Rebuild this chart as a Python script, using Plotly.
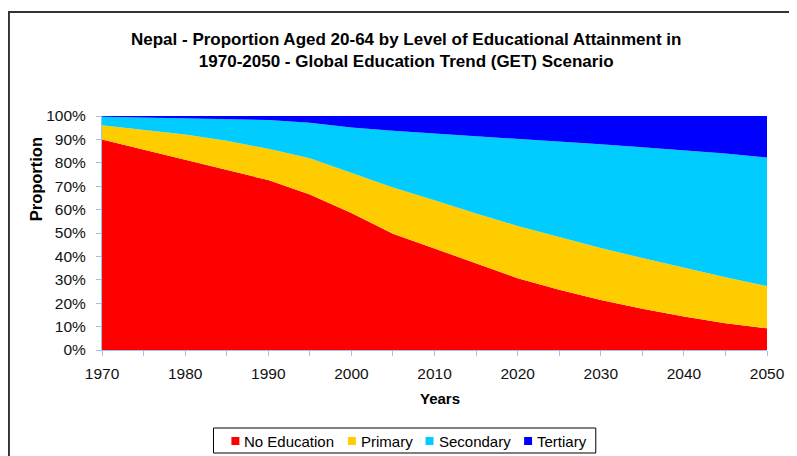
import plotly.graph_objects as go

years = [1970, 1975, 1980, 1985, 1990, 1995, 2000, 2005, 2010, 2015, 2020, 2025, 2030, 2035, 2040, 2045, 2050]
no_education = [90.0, 85.7, 81.4, 77.0, 72.6, 66.4, 58.6, 49.7, 43.3, 36.9, 30.7, 25.7, 21.4, 17.6, 14.3, 11.4, 9.3]
primary = [6.1, 8.3, 10.7, 12.4, 13.4, 15.5, 17.1, 19.7, 20.7, 21.4, 22.3, 22.6, 22.2, 21.7, 20.8, 19.7, 18.0]
secondary = [3.6, 5.4, 6.9, 9.3, 12.3, 15.2, 19.4, 24.3, 28.6, 33.1, 37.1, 40.7, 44.3, 47.3, 50.3, 52.9, 55.0]
tertiary = [0.3, 0.6, 1.0, 1.3, 1.7, 2.9, 4.9, 6.3, 7.4, 8.6, 9.9, 11.0, 12.1, 13.4, 14.6, 16.0, 17.7]

series_names = ["No Education", "Primary", "Secondary", "Tertiary"]
series_values = [no_education, primary, secondary, tertiary]
series_colors = ["#FF0000", "#FFCC00", "#00CCFF", "#0000FF"]

x_ticks = [1970, 1980, 1990, 2000, 2010, 2020, 2030, 2040, 2050]
y_ticks = [0, 10, 20, 30, 40, 50, 60, 70, 80, 90, 100]
y_labels = [f"{v}%" for v in y_ticks]

title_lines = [
    "Nepal - Proportion Aged 20-64 by Level of Educational Attainment in",
    "1970-2050 - Global Education Trend (GET) Scenario",
]

# figure geometry (page has an 8px body margin)
W, H = 789, 448
ML, MR, MT, MB = 94, 27, 108, 106
PW = W - ML - MR
PH = H - MT - MB


def px_x(fx):
    return (fx - ML) / PW


def px_y(fy):
    return (MT + PH - fy) / PH


fig = go.Figure()
for name, vals, col in zip(series_names, series_values, series_colors):
    fig.add_trace(go.Scatter(
        x=years, y=vals, name=name, mode="lines",
        stackgroup="one", line=dict(width=0, color=col),
        fillcolor=col, showlegend=False,
    ))

axis_col = "#99C2F0"
font = "Liberation Sans, Arial, sans-serif"

fig.update_layout(
    width=W, height=H,
    margin=dict(l=ML, r=MR, t=MT, b=MB),
    paper_bgcolor="white", plot_bgcolor="white",
    font=dict(family=font, size=15, color="black"),
    xaxis=dict(
        range=[1970, 2050], tickvals=x_ticks, ticktext=[str(v) for v in x_ticks],
        showgrid=False, zeroline=False, showline=True, linecolor=axis_col, linewidth=1,
        ticks="outside", ticklen=5, tickcolor=axis_col,
        minor=dict(dtick=5, tick0=1970, ticks="outside", ticklen=5, tickcolor=axis_col, showgrid=False),
        tickfont=dict(size=15.5, color="#111111"),
        ticklabelstandoff=4,
    ),
    yaxis=dict(
        range=[0, 100], tickvals=y_ticks, ticktext=y_labels,
        showgrid=False, zeroline=False, showline=True, linecolor=axis_col, linewidth=1,
        ticks="outside", ticklen=5, tickcolor=axis_col,
        tickfont=dict(size=15.5, color="#111111"),
        ticklabelstandoff=7,
    ),
    showlegend=False,
)

# title
fig.add_annotation(
    text="<b>" + "<br>".join(title_lines) + "</b>", xref="paper", yref="paper",
    x=px_x(399.5), y=px_y(42.5), xanchor="center", yanchor="middle",
    showarrow=False, font=dict(size=17, family=font, color="black"),
)

# axis titles
fig.add_annotation(
    text="<b>Years</b>", xref="paper", yref="paper",
    x=px_x(434), y=px_y(390), xanchor="center", yanchor="middle",
    showarrow=False, font=dict(size=15, family=font, color="black"),
)
fig.add_annotation(
    text="<b>Proportion</b>", xref="paper", yref="paper", textangle=-90,
    x=px_x(28), y=px_y(171), xanchor="center", yanchor="middle",
    showarrow=False, font=dict(size=16.5, family=font, color="black"),
)

# outer chart frame
fig.add_shape(
    type="rect", xref="paper", yref="paper",
    x0=px_x(0.5), x1=px_x(800), y0=px_y(470), y1=px_y(4),
    line=dict(color="#333333", width=2), fillcolor="rgba(0,0,0,0)", layer="below",
)

# legend box
fig.add_shape(
    type="rect", xref="paper", yref="paper",
    x0=px_x(206), x1=px_x(590), y0=px_y(445), y1=px_y(420),
    line=dict(color="black", width=1), fillcolor="white",
)
sq_x = [224, 341, 419, 518]
tx_x = [235, 352, 431, 529]
ly = 433
for name, col, sx, tx in zip(series_names, series_colors, sq_x, tx_x):
    fig.add_shape(
        type="rect", xref="paper", yref="paper",
        x0=px_x(sx), x1=px_x(sx + 8), y0=px_y(ly + 4), y1=px_y(ly - 4),
        line=dict(width=0), fillcolor=col,
    )
    fig.add_annotation(
        text=name, xref="paper", yref="paper",
        x=px_x(tx), y=px_y(ly), xanchor="left", yanchor="middle",
        showarrow=False, font=dict(size=15, family=font, color="black"),
    )

fig.write_html("out.html")
